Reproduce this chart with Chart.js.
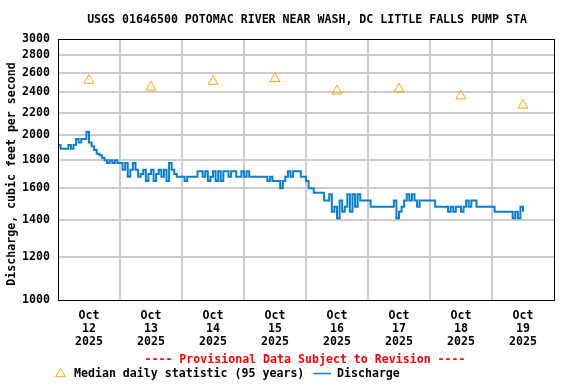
<!DOCTYPE html>
<html lang="en">
<head>
<meta charset="UTF-8">
<title>USGS 01646500 Potomac River near Wash, DC</title>
<script src="https://cdn.jsdelivr.net/npm/chart.js"></script>
<style>
  html, body { margin: 0; padding: 0; background: #fff; }
  canvas { display: block; }
</style>
</head>
<body>
<canvas id="flowChart" width="576" height="384"></canvas>
<script>
// hourly discharge in cfs (hour 0 = Oct 12 00:00)
const oct12 = [1920, 1890, 1890, 1890, 1920, 1890, 1920, 1970, 1940, 1970, 1970, 2030,
               1940, 1910, 1880, 1850, 1840, 1820, 1800, 1780, 1800, 1780, 1800, 1780];
const oct13 = [1780, 1730, 1780, 1680, 1730, 1780, 1730, 1680, 1700, 1730, 1650, 1700,
               1730, 1650, 1700, 1730, 1680, 1730, 1650, 1780, 1730, 1700, 1680, 1680];
const oct14 = [1680, 1650, 1680, 1680, 1680, 1680, 1720, 1720, 1680, 1720, 1650, 1680,
               1720, 1650, 1720, 1650, 1720, 1720, 1680, 1720, 1720, 1680, 1680, 1720];
const oct15 = [1680, 1720, 1680, 1680, 1680, 1680, 1680, 1680, 1680, 1650, 1680, 1650,
               1650, 1650, 1600, 1650, 1680, 1720, 1680, 1720, 1720, 1720, 1680, 1680];
const oct16 = [1650, 1600, 1600, 1570, 1570, 1570, 1570, 1520, 1520, 1560, 1450, 1480,
               1410, 1520, 1450, 1480, 1560, 1450, 1560, 1480, 1560, 1520, 1520, 1520];
const oct17 = [1520, 1480, 1480, 1480, 1480, 1480, 1480, 1480, 1480, 1480, 1520, 1410,
               1450, 1480, 1520, 1560, 1520, 1560, 1520, 1480, 1520, 1520, 1520, 1520];
const oct18 = [1520, 1520, 1480, 1480, 1480, 1480, 1480, 1450, 1480, 1450, 1480, 1480,
               1450, 1480, 1520, 1480, 1520, 1520, 1480, 1480, 1480, 1480, 1480, 1480];
const oct19 = [1480, 1450, 1450, 1450, 1450, 1450, 1450, 1450, 1410, 1450, 1410, 1480, 1450];

// median daily statistic (95 years), one per day, plotted at noon
const medianFlow = [2520, 2450, 2510, 2540, 2410, 2430, 2360, 2270];

const dayLabels = ['12', '13', '14', '15', '16', '17', '18', '19'];
const yTicks = [1000, 1200, 1400, 1600, 1800, 2000, 2200, 2400, 2600, 2800, 3000];

const hourly = [].concat(oct12, oct13, oct14, oct15, oct16, oct17, oct18, oct19);
const dischargePts = hourly.map((v, i) => ({ x: i, y: v }));
const medianPts = medianFlow.map((v, i) => ({ x: i * 24 + 12, y: v }));
const xTickHours = dayLabels.flatMap((d, i) => [i * 24, i * 24 + 12]).concat([192]);

const FONT = '"DejaVu Sans Mono", "Liberation Mono", monospace';
const BLUE = '#0a7fd0';
const ORANGE = '#ffa500';
const GRID = '#cccccc';

const frameAndText = {
    id: 'frameAndText',
    afterDraw(chart) {
        const { ctx, chartArea: a } = chart;
        ctx.save();
        ctx.strokeStyle = '#000';
        ctx.lineWidth = 1;
        ctx.strokeRect(a.left + 0.5, a.top + 0.5, a.width, a.height);

        ctx.font = 'bold 11.6px ' + FONT;
        ctx.fillStyle = '#000';
        ctx.textAlign = 'center';
        ctx.textBaseline = 'middle';
        ctx.fillText('USGS 01646500 POTOMAC RIVER NEAR WASH, DC LITTLE FALLS PUMP STA', (a.left + a.right) / 2 + 1, 20);

        ctx.save();
        ctx.translate(11.5, 174);
        ctx.rotate(-Math.PI / 2);
        ctx.fillText('Discharge, cubic feet per second', 0, 0);
        ctx.restore();

        ctx.fillStyle = '#ff0000';
        ctx.fillText('---- Provisional Data Subject to Revision ----', 305, 360);

        // legend
        const tx = 60.5, ty = 374, r = 5.5;
        ctx.strokeStyle = ORANGE;
        ctx.beginPath();
        ctx.moveTo(tx, ty - r);
        ctx.lineTo(tx + r * 0.866, ty + r / 2);
        ctx.lineTo(tx - r * 0.866, ty + r / 2);
        ctx.closePath();
        ctx.stroke();

        ctx.fillStyle = '#000';
        ctx.textAlign = 'left';
        ctx.fillText('Median daily statistic (95 years)', 74, 374);
        ctx.strokeStyle = BLUE;
        ctx.lineWidth = 1.5;
        ctx.beginPath();
        ctx.moveTo(313.5, 373.5);
        ctx.lineTo(331, 373.5);
        ctx.stroke();
        ctx.fillText('Discharge', 337, 374);
        ctx.restore();
    }
};

new Chart(document.getElementById('flowChart'), {
    type: 'line',
    data: {
        datasets: [
            {
                label: 'Discharge',
                data: dischargePts,
                borderColor: BLUE,
                borderWidth: 2,
                stepped: true,
                pointRadius: 0,
                fill: false
            },
            {
                label: 'Median daily statistic (95 years)',
                data: medianPts,
                showLine: false,
                pointStyle: 'triangle',
                pointRadius: 5.8,
                borderColor: ORANGE,
                backgroundColor: 'rgba(0,0,0,0)',
                borderWidth: 1
            }
        ]
    },
    options: {
        responsive: false,
        animation: false,
        layout: { padding: { left: 0, right: 22, top: 39, bottom: 30 } },
        plugins: { legend: { display: false }, tooltip: { enabled: false } },
        scales: {
            x: {
                type: 'linear', min: 0, max: 192,
                afterBuildTicks: s => { s.ticks = xTickHours.map(v => ({ value: v })); },
                afterFit: s => { s.height = 54; },
                border: { display: false },
                grid: {
                    color: c => (c.tick && c.tick.value % 24 === 0 && c.tick.value > 0 && c.tick.value < 192) ? GRID : 'rgba(0,0,0,0)',
                    lineWidth: 2,
                    drawTicks: false
                },
                ticks: {
                    autoSkip: false, maxRotation: 0, padding: 9, color: '#000',
                    font: { family: FONT, size: 11.6, weight: 'bold', lineHeight: 1.15 },
                    callback: v => v % 24 === 12 ? ['Oct', dayLabels[(v - 12) / 24], '2025'] : ''
                }
            },
            y: {
                type: 'logarithmic', min: 1000, max: 3000,
                afterBuildTicks: s => { s.ticks = yTicks.map(v => ({ value: v })); },
                afterFit: s => { s.width = 58; },
                border: { display: false },
                grid: {
                    color: c => (c.tick && c.tick.value > 1000 && c.tick.value < 3000) ? GRID : 'rgba(0,0,0,0)',
                    lineWidth: 2,
                    drawTicks: false
                },
                ticks: {
                    padding: 8, color: '#000',
                    font: { family: FONT, size: 11.6, weight: 'bold' },
                    callback: v => String(v)
                }
            }
        }
    },
    plugins: [frameAndText]
});
</script>
</body>
</html>
